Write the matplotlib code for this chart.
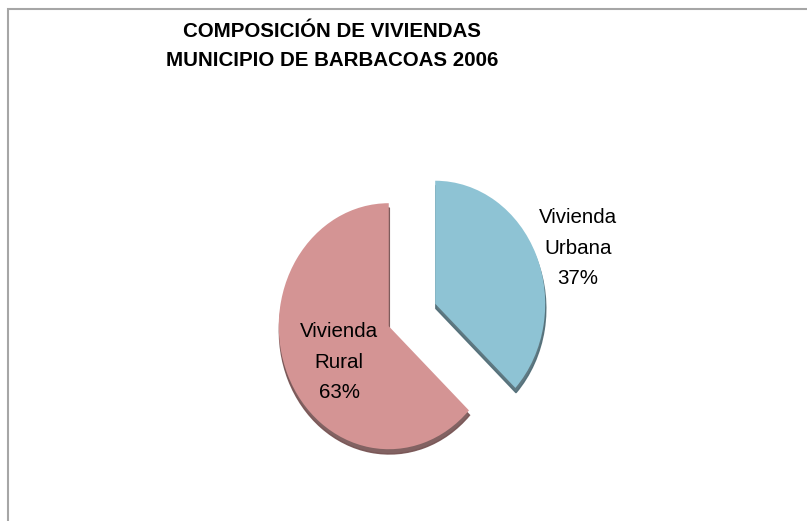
import matplotlib
matplotlib.use("Agg")
import matplotlib.pyplot as plt
from matplotlib.patches import Rectangle

# data
categorias = ["Vivienda\nUrbana", "Vivienda\nRural"]
porcentajes = [37, 63]
colores = ["#8EC3D4", "#D49494"]
titulo = "COMPOSICIÓN DE VIVIENDAS\nMUNICIPIO DE BARBACOAS 2006"

plt.rcParams['font.family'] = ['Liberation Sans', 'DejaVu Sans']

fig = plt.figure(figsize=(8.07, 5.21), dpi=100)
fig.patch.set_facecolor('white')

# axes placed so the pie sits where it does in the original
ax = fig.add_axes([0.2924, 0.0177, 0.4362, 0.7555])
wedges, _ = ax.pie(porcentajes, colors=colores, startangle=90, counterclock=False,
                   explode=[0.23, 0.23],
                   shadow={'ox': 0.004, 'oy': -0.028, 'shade': 0.45, 'alpha': 0.9})
ax.set_aspect('auto')
ax.set_xlim(-1.6, 1.6)
ax.set_ylim(-1.6, 1.6)
ax.axis('off')

# labels with category and percentage
pos_etiquetas = [(578, 248), (339, 362)]
for cat, pct, (px, py) in zip(categorias, porcentajes, pos_etiquetas):
    fig.text(px / 807, 1 - py / 521, f"{cat}\n{pct}%", ha='center', va='center',
             fontsize=14.8, linespacing=1.78, color='black')

fig.text(332 / 807, 1 - 46 / 521, titulo, ha='center', va='center',
         fontsize=14.8, fontweight='bold', linespacing=1.7)

# chart area border (cut off at right and bottom)
fig.patches.append(Rectangle((8 / 807, -0.05), 1.1, 0.9827 + 0.05, transform=fig.transFigure,
                             fill=False, edgecolor='#a6a6a6', lw=1.5))

fig.savefig("out.png", dpi=100)
